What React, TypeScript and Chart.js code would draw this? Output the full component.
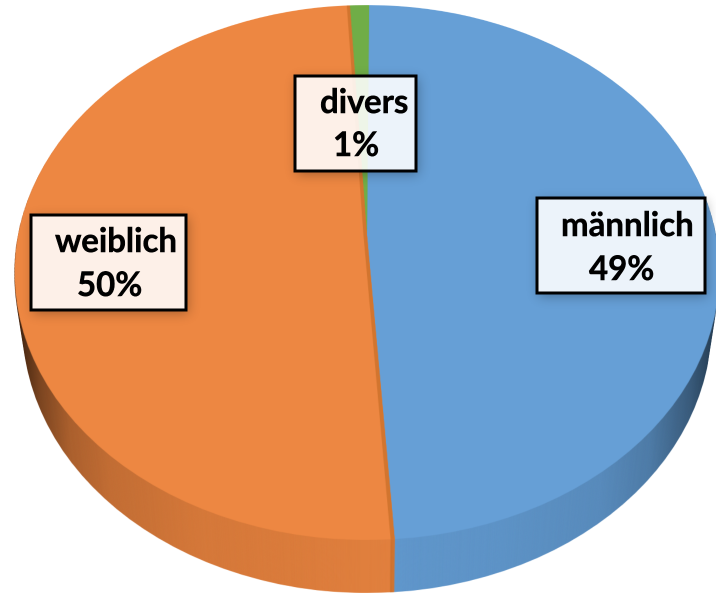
import React, { useEffect, useRef } from "react";
import { Chart, registerables } from "chart.js";

Chart.register(...registerables);

const categories = ["männlich", "weiblich", "divers"];
const shares = [48.8, 50.2, 1];
const sliceColors = ["#669FD6", "#ED8742", "#70AD47"];
const percentLabels = ["49%", "50%", "1%"];

const W = 716;
const H = 594;
const DPR = 2;
const ROTATION = 0.4;
const DEPTH = 53;
const SIDE_SHRINK = 0.024;

// perspective of the top face: y at v=-1, 0, 1 of the source circle
const Y_TOP = 5;
const Y_MID = 235;
const Y_BOT = 540;
const CX = 367;
const HALF_WIDTH = 349;

const P_C = (Y_TOP + Y_BOT - 2 * Y_MID) / (Y_TOP - Y_BOT);
const P_A = Y_MID - Y_TOP + Y_TOP * P_C;

const sideShade: [number, number][] = [
  [14, 0.82], [24, 0.66], [40, 0.48], [70, 0.28], [110, 0.18], [200, 0.1], [390, 0.05],
  [500, 0.07], [600, 0.12], [650, 0.22], [690, 0.42], [716, 0.62],
];

const FONT = "bold 33px Lato";

type Box = { x: number; y: number; w: number; h: number; nameX: number; nameY: number; pctX: number; pctY: number };
const boxes: Box[] = [
  { x: 537, y: 198, w: 168, h: 95, nameX: 561, nameY: 236, pctX: 589, pctY: 280 },
  { x: 31, y: 215, w: 155, h: 95, nameX: 55, nameY: 252, pctX: 77, pctY: 296 },
  { x: 295, y: 76, w: 121, h: 95, nameX: 320, nameY: 113, pctX: 333, pctY: 156 },
];

const threeD = {
  id: "threeD",
  afterDatasetsDraw(chart: any) {
    const ctx: CanvasRenderingContext2D = chart.ctx;
    const meta = chart.getDatasetMeta(0);
    const first = meta.data[0].getProps(["x", "y", "outerRadius"], true);
    const sx = first.x;
    const sy = first.y;
    const R = first.outerRadius;

    // darker inner rim of the orange slice along its two straight edges
    const o = meta.data[1].getProps(["startAngle", "endAngle"], true);
    ctx.save();
    ctx.beginPath();
    ctx.moveTo(sx, sy);
    ctx.arc(sx, sy, R, o.startAngle, o.endAngle);
    ctx.closePath();
    ctx.clip();
    ctx.strokeStyle = "#D2752F";
    ctx.lineWidth = 6;
    ctx.beginPath();
    ctx.moveTo(sx + R * Math.cos(o.startAngle), sy + R * Math.sin(o.startAngle));
    ctx.lineTo(sx, sy);
    ctx.lineTo(sx + R * Math.cos(o.endAngle), sy + R * Math.sin(o.endAngle));
    ctx.stroke();
    ctx.restore();

    const cw = W * DPR;
    const ch = H * DPR;
    const source = document.createElement("canvas");
    source.width = cw;
    source.height = ch;
    source.getContext("2d")!.drawImage(ctx.canvas, 0, 0);

    // warp the flat pie row by row into the tilted top face
    const top = document.createElement("canvas");
    top.width = cw;
    top.height = ch;
    const tc = top.getContext("2d")!;
    tc.imageSmoothingEnabled = true;
    tc.imageSmoothingQuality = "high";
    for (let row = 0; row < ch; row++) {
      const y = (row + 0.5) / DPR;
      const v = (y - Y_MID) / (P_A - P_C * y);
      if (v < -1 || v > 1) continue;
      const w = 1 + P_C * v;
      const scale = HALF_WIDTH / R / w;
      const dvdy = (P_A - P_C * Y_MID) / Math.pow(P_A - P_C * y, 2);
      const srcH = R * dvdy;
      const srcY = (sy + R * v - srcH / 2) * DPR;
      tc.drawImage(source, 0, srcY, cw, srcH * DPR, (CX - sx * scale) * DPR, row, cw * scale, 1);
    }

    // side wall: extruded top face, narrowing with depth, with horizontal shading
    const side = document.createElement("canvas");
    side.width = cw;
    side.height = ch;
    const sc = side.getContext("2d")!;
    const steps = DEPTH * DPR;
    for (let d = steps; d >= 1; d--) {
      const s = 1 - SIDE_SHRINK * (d / steps);
      sc.drawImage(top, CX * DPR * (1 - s), d, cw * s, ch);
    }
    sc.globalCompositeOperation = "source-atop";
    const g = sc.createLinearGradient(0, 0, cw, 0);
    sideShade.forEach(([x, a]) => g.addColorStop(x / W, `rgba(0,0,0,${a})`));
    sc.fillStyle = g;
    sc.fillRect(0, 0, cw, ch);

    ctx.save();
    ctx.setTransform(1, 0, 0, 1, 0, 0);
    ctx.clearRect(0, 0, cw, ch);
    ctx.drawImage(side, 0, 0);
    ctx.drawImage(top, 0, 0);
    ctx.restore();

    // data labels
    boxes.forEach((b, i) => {
      ctx.save();
      ctx.beginPath();
      ctx.rect(0, 0, W, H);
      ctx.rect(b.x, b.y, b.w, b.h);
      ctx.clip("evenodd");
      ctx.shadowColor = "rgba(0,0,0,0.3)";
      ctx.shadowBlur = 22;
      ctx.shadowOffsetX = 2 * DPR;
      ctx.shadowOffsetY = 3 * DPR;
      ctx.fillStyle = "#000";
      ctx.fillRect(b.x, b.y, b.w, b.h);
      ctx.restore();

      ctx.save();
      ctx.fillStyle = "rgba(255,255,255,0.88)";
      ctx.fillRect(b.x, b.y, b.w, b.h);
      ctx.strokeStyle = "#000";
      ctx.lineWidth = 3;
      ctx.strokeRect(b.x, b.y, b.w, b.h);
      ctx.fillStyle = "#000";
      ctx.strokeStyle = "#000";
      ctx.lineWidth = 0.5;
      ctx.font = FONT;
      ctx.textAlign = "left";
      ctx.textBaseline = "alphabetic";
      ctx.fillText(categories[i], b.nameX, b.nameY);
      ctx.strokeText(categories[i], b.nameX, b.nameY);
      ctx.fillText(percentLabels[i], b.pctX, b.pctY);
      ctx.strokeText(percentLabels[i], b.pctX, b.pctY);
      ctx.restore();
    });
  },
};

export default function App() {
  const ref = useRef<HTMLCanvasElement>(null);
  useEffect(() => {
    const chart = new Chart(ref.current!, {
      type: "pie",
      data: {
        labels: categories,
        datasets: [{ data: shares, backgroundColor: sliceColors, borderWidth: 0 }],
      },
      options: {
        animation: false,
        responsive: false,
        devicePixelRatio: DPR,
        rotation: ROTATION,
        layout: { padding: 0 },
        plugins: { legend: { display: false }, tooltip: { enabled: false } },
      },
      plugins: [threeD],
    } as any);
    return () => chart.destroy();
  }, []);
  return (
    <div style={{ position: "absolute", left: 0, top: 0, width: W, height: H, background: "#fff", overflow: "hidden" }}>
      <canvas ref={ref} width={W} height={H} style={{ display: "block" }} />
    </div>
  );
}
